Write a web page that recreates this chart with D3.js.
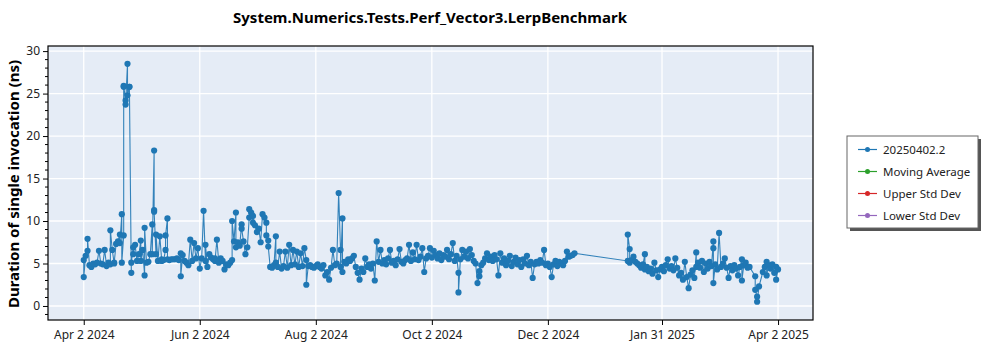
<!DOCTYPE html>
<html>
<head>
<meta charset="utf-8">
<script src="https://cdn.jsdelivr.net/npm/d3@7"></script>
<style>
  html, body { margin: 0; padding: 0; background: #ffffff; }
  svg { display: block; font-family: "Noto Sans", "Open Sans", sans-serif; }
</style>
</head>
<body>
<svg id="chart" width="1000" height="350"></svg>
<script>
// Benchmark run history: one entry per recorded run (date, duration in ns).
const runDates = [
  "2024-04-02","2024-04-02","2024-04-03","2024-04-04","2024-04-04","2024-04-05","2024-04-06","2024-04-07",
  "2024-04-08","2024-04-09","2024-04-10","2024-04-11","2024-04-12","2024-04-13","2024-04-14","2024-04-15",
  "2024-04-16","2024-04-16","2024-04-17","2024-04-18","2024-04-18","2024-04-19","2024-04-20","2024-04-21",
  "2024-04-21","2024-04-22","2024-04-22","2024-04-23","2024-04-23","2024-04-23","2024-04-24","2024-04-24",
  "2024-04-25","2024-04-25","2024-04-26","2024-04-26","2024-04-27","2024-04-27","2024-04-28","2024-04-28",
  "2024-04-29","2024-04-30","2024-05-01","2024-05-02","2024-05-02","2024-05-03","2024-05-04","2024-05-04",
  "2024-05-05","2024-05-06","2024-05-07","2024-05-08","2024-05-08","2024-05-09","2024-05-09","2024-05-09",
  "2024-05-10","2024-05-10","2024-05-11","2024-05-12","2024-05-13","2024-05-13","2024-05-14","2024-05-15",
  "2024-05-15","2024-05-16","2024-05-16","2024-05-17","2024-05-18","2024-05-19","2024-05-20","2024-05-21",
  "2024-05-22","2024-05-23","2024-05-23","2024-05-24","2024-05-25","2024-05-26","2024-05-27","2024-05-28",
  "2024-05-29","2024-05-30","2024-05-31","2024-06-01","2024-06-02","2024-06-03","2024-06-04","2024-06-05",
  "2024-06-05","2024-06-06","2024-06-07","2024-06-08","2024-06-09","2024-06-10","2024-06-10","2024-06-11",
  "2024-06-12","2024-06-13","2024-06-14","2024-06-15","2024-06-16","2024-06-17","2024-06-18","2024-06-19",
  "2024-06-19","2024-06-20","2024-06-21","2024-06-21","2024-06-22","2024-06-23","2024-06-24","2024-06-24",
  "2024-06-25","2024-06-26","2024-06-27","2024-06-28","2024-06-28","2024-06-29","2024-06-30","2024-06-30",
  "2024-07-01","2024-07-02","2024-07-03","2024-07-04","2024-07-05","2024-07-06","2024-07-07","2024-07-07",
  "2024-07-08","2024-07-08","2024-07-09","2024-07-10","2024-07-11","2024-07-12","2024-07-12","2024-07-13",
  "2024-07-14","2024-07-15","2024-07-16","2024-07-17","2024-07-18","2024-07-19","2024-07-20","2024-07-21",
  "2024-07-22","2024-07-23","2024-07-24","2024-07-25","2024-07-26","2024-07-27","2024-07-28","2024-07-28",
  "2024-07-29","2024-07-30","2024-07-31","2024-08-01","2024-08-02","2024-08-03","2024-08-04","2024-08-05",
  "2024-08-06","2024-08-07","2024-08-08","2024-08-09","2024-08-10","2024-08-11","2024-08-12","2024-08-13",
  "2024-08-14","2024-08-15","2024-08-15","2024-08-16","2024-08-16","2024-08-17","2024-08-18","2024-08-19",
  "2024-08-20","2024-08-21","2024-08-22","2024-08-23","2024-08-24","2024-08-25","2024-08-26","2024-08-27",
  "2024-08-28","2024-08-29","2024-08-30","2024-08-31","2024-09-01","2024-09-02","2024-09-03","2024-09-04",
  "2024-09-05","2024-09-06","2024-09-07","2024-09-08","2024-09-09","2024-09-10","2024-09-11","2024-09-12",
  "2024-09-13","2024-09-14","2024-09-15","2024-09-16","2024-09-17","2024-09-18","2024-09-19","2024-09-20",
  "2024-09-21","2024-09-22","2024-09-23","2024-09-24","2024-09-25","2024-09-26","2024-09-27","2024-09-28",
  "2024-09-29","2024-09-30","2024-10-01","2024-10-02","2024-10-03","2024-10-04","2024-10-05","2024-10-06",
  "2024-10-07","2024-10-08","2024-10-09","2024-10-10","2024-10-11","2024-10-12","2024-10-13","2024-10-14",
  "2024-10-15","2024-10-16","2024-10-16","2024-10-17","2024-10-18","2024-10-19","2024-10-20","2024-10-21",
  "2024-10-22","2024-10-23","2024-10-24","2024-10-25","2024-10-26","2024-10-27","2024-10-27","2024-10-28",
  "2024-10-29","2024-10-30","2024-10-31","2024-11-01","2024-11-02","2024-11-03","2024-11-04","2024-11-05",
  "2024-11-06","2024-11-07","2024-11-08","2024-11-09","2024-11-10","2024-11-11","2024-11-12","2024-11-13",
  "2024-11-14","2024-11-15","2024-11-16","2024-11-17","2024-11-18","2024-11-19","2024-11-20","2024-11-21",
  "2024-11-22","2024-11-23","2024-11-24","2024-11-25","2024-11-26","2024-11-27","2024-11-28","2024-11-29",
  "2024-11-30","2024-12-01","2024-12-02","2024-12-03","2024-12-04","2024-12-05","2024-12-06","2024-12-07",
  "2024-12-08","2024-12-09","2024-12-10","2024-12-11","2024-12-12","2024-12-13","2024-12-14","2024-12-15",
  "2024-12-16",
  "2025-01-13","2025-01-13","2025-01-14","2025-01-14","2025-01-15","2025-01-16","2025-01-17","2025-01-18",
  "2025-01-19","2025-01-20","2025-01-21","2025-01-22","2025-01-22","2025-01-23","2025-01-24","2025-01-25",
  "2025-01-26","2025-01-27","2025-01-28","2025-01-29","2025-01-30","2025-01-31","2025-02-01","2025-02-02",
  "2025-02-03","2025-02-04","2025-02-05","2025-02-06","2025-02-07","2025-02-08","2025-02-09","2025-02-10",
  "2025-02-11","2025-02-12","2025-02-13","2025-02-14","2025-02-15","2025-02-16","2025-02-17","2025-02-18",
  "2025-02-18","2025-02-19","2025-02-20","2025-02-21","2025-02-22","2025-02-23","2025-02-24","2025-02-25",
  "2025-02-26","2025-02-27","2025-02-27","2025-02-27","2025-02-28","2025-03-01","2025-03-02","2025-03-03",
  "2025-03-04","2025-03-05","2025-03-06","2025-03-07","2025-03-08","2025-03-09","2025-03-10","2025-03-11",
  "2025-03-12","2025-03-13","2025-03-14","2025-03-14","2025-03-15","2025-03-16","2025-03-17","2025-03-18",
  "2025-03-21","2025-03-21","2025-03-22","2025-03-22","2025-03-23","2025-03-25","2025-03-26","2025-03-27",
  "2025-03-27","2025-03-28","2025-03-29","2025-03-30","2025-03-31","2025-04-01","2025-04-01","2025-04-02"
];
const durations = [
  5.4,3.4,5.9,6.5,7.9,4.8,4.6,5.0,
  4.9,5.1,6.5,5.0,4.9,6.6,4.7,5.1,
  4.9,8.9,6.6,5.0,5.1,7.3,7.6,8.4,
  7.4,10.8,5.1,8.3,25.8,25.9,24.2,23.7,
  28.5,24.8,25.8,25.8,3.9,5.1,6.9,6.1,
  7.2,5.3,6.1,7.7,5.3,6.6,3.6,9.2,
  5.1,5.2,6.1,9.6,6.1,18.3,11.3,11.1,
  6.1,8.4,5.3,8.2,5.3,5.5,5.4,6.6,
  8.3,10.3,5.5,5.4,5.5,5.5,5.5,5.6,
  5.4,6.2,3.5,6.0,5.3,5.1,4.8,7.8,
  5.3,7.4,5.6,6.8,4.4,5.6,11.2,5.3,
  7.2,4.6,6.1,5.7,5.5,5.6,5.3,7.8,
  5.1,5.6,5.3,4.3,4.9,4.8,5.1,5.4,
  10.0,7.6,11.0,6.9,7.5,7.1,9.6,9.1,
  7.6,6.1,6.9,10.4,11.4,11.0,9.8,10.6,
  9.5,8.7,9.1,7.5,10.8,10.4,9.8,8.3,
  7.7,7.0,4.6,4.5,4.8,8.2,5.1,4.6,
  6.4,4.4,4.7,6.4,4.5,7.2,4.8,6.6,
  4.9,6.4,4.6,6.2,4.7,6.8,5.4,2.5,
  4.7,4.8,4.6,4.5,4.7,4.9,4.6,4.4,
  4.8,3.6,4.0,3.1,4.5,6.6,4.8,5.0,
  13.3,6.6,4.6,10.3,4.0,5.2,5.0,5.5,
  5.3,5.6,5.9,4.6,3.9,3.1,4.4,4.0,
  5.6,4.6,4.9,4.4,5.0,3.0,7.6,5.2,
  6.6,5.0,5.4,4.9,5.6,6.6,5.1,5.3,
  4.8,5.5,6.7,5.2,5.0,5.4,5.6,7.2,
  5.3,6.3,5.5,7.2,5.4,5.8,6.8,4.0,
  5.6,5.9,6.8,5.7,6.5,6.0,5.6,6.2,
  5.4,6.0,5.8,6.6,5.5,6.1,7.4,5.3,
  5.9,3.9,1.6,5.5,6.6,5.8,6.4,5.6,
  6.7,6.0,5.3,5.0,2.7,3.5,4.1,4.8,
  5.1,5.6,6.2,5.4,5.8,5.3,6.0,5.5,
  3.6,6.2,5.1,5.6,4.8,5.3,5.9,4.7,
  5.2,5.7,4.9,5.4,4.6,5.5,5.0,5.9,
  4.8,5.2,3.3,4.9,5.2,5.0,5.4,5.1,
  6.6,4.8,5.0,4.6,3.4,4.9,5.3,4.7,
  5.2,5.0,4.8,5.3,6.4,5.8,5.9,6.0,
  6.2,
  5.3,8.4,6.7,5.1,5.4,5.8,5.2,5.0,
  4.8,4.5,4.9,6.1,4.3,4.6,4.1,4.4,
  3.8,5.1,4.2,3.4,4.3,4.6,4.1,4.8,
  5.5,4.4,4.7,4.2,5.6,4.5,3.6,3.9,
  3.1,5.2,3.4,2.1,3.7,4.2,3.3,6.3,
  4.6,5.1,4.5,5.3,4.0,5.0,4.4,5.2,
  4.7,7.6,6.8,2.7,4.9,4.3,8.6,4.6,
  5.0,5.6,4.5,3.3,4.7,4.2,4.8,4.4,
  3.6,4.6,5.5,3.0,4.8,5.1,4.5,4.6,
  3.5,1.9,1.1,0.5,2.3,4.0,4.6,5.2,
  3.6,4.8,4.4,4.9,3.9,4.6,3.1,4.3
];

const xTickDates = ["2024-04-02","2024-06-02","2024-08-02","2024-10-02","2024-12-02","2025-01-31","2025-04-02"];
const xTickLabels = ["Apr 2 2024","Jun 2 2024","Aug 2 2024","Oct 2 2024","Dec 2 2024","Jan 31 2025","Apr 2 2025"];
const yTickValues = [0, 5, 10, 15, 20, 25, 30];

const legendNames = ["20250402.2", "Moving Average", "Upper Std Dev", "Lower Std Dev"];
const legendColors = ["#1f77b4", "#2ca02c", "#d62728", "#9467bd"];

const chartTitle = "System.Numerics.Tests.Perf_Vector3.LerpBenchmark";
const yAxisTitle = "Duration of single invocation (ns)";

// ---- layout ----
const plot = { left: 48, right: 813, top: 46, bottom: 320 };
const svg = d3.select("#chart");
const parse = d3.utcParse("%Y-%m-%d");

const runs = runDates.map((d, i) => ({ date: parse(d), value: durations[i] }));

const x = d3.scaleUtc()
  .domain([new Date(Date.UTC(2024, 2, 14, 5)), new Date(Date.UTC(2025, 3, 20, 9))])
  .range([plot.left, plot.right]);
const y = d3.scaleLinear()
  .domain([-1.65, 30.6])
  .range([plot.bottom, plot.top]);

const xTicks = xTickDates.map(parse);

// plot background
svg.append("rect")
  .attr("x", plot.left).attr("y", plot.top)
  .attr("width", plot.right - plot.left).attr("height", plot.bottom - plot.top)
  .attr("fill", "#e5ecf6");

// grid lines
const grid = svg.append("g");
grid.selectAll("line.h").data(yTickValues).join("line")
  .attr("x1", plot.left).attr("x2", plot.right)
  .attr("y1", d => y(d)).attr("y2", d => y(d))
  .attr("stroke", "#ffffff").attr("stroke-width", 1.3);
grid.selectAll("line.v").data(xTicks).join("line")
  .attr("y1", plot.top).attr("y2", plot.bottom)
  .attr("x1", d => x(d)).attr("x2", d => x(d))
  .attr("stroke", "#ffffff").attr("stroke-width", 1.3);

// series line and markers, clipped to the plot area
svg.append("clipPath").attr("id", "plotClip")
  .append("rect")
  .attr("x", plot.left).attr("y", plot.top)
  .attr("width", plot.right - plot.left).attr("height", plot.bottom - plot.top);

const series = svg.append("g").attr("clip-path", "url(#plotClip)");
const line = d3.line().x(d => x(d.date)).y(d => y(d.value));
series.append("path")
  .datum(runs)
  .attr("d", line)
  .attr("fill", "none")
  .attr("stroke", legendColors[0])
  .attr("stroke-width", 1.1)
  .attr("stroke-opacity", 0.9);
series.selectAll("circle").data(runs).join("circle")
  .attr("cx", d => x(d.date))
  .attr("cy", d => y(d.value))
  .attr("r", 3.1)
  .attr("fill", legendColors[0]);

// frame
svg.append("rect")
  .attr("x", plot.left).attr("y", plot.top)
  .attr("width", plot.right - plot.left).attr("height", plot.bottom - plot.top)
  .attr("fill", "none").attr("stroke", "#000000").attr("stroke-width", 1.2);

// axes
const tickFont = "12px";
const xAxis = d3.axisBottom(x)
  .tickValues(xTicks)
  .tickSize(5)
  .tickSizeOuter(0)
  .tickFormat((d, i) => xTickLabels[i]);
const gx = svg.append("g")
  .attr("transform", `translate(0,${plot.bottom})`)
  .call(xAxis);
gx.select(".domain").remove();
gx.selectAll("text").attr("font-size", tickFont).attr("fill", "#222").attr("dy", "0.95em")
  .attr("font-family", "\"Noto Sans\", sans-serif");
gx.selectAll(".tick line").attr("stroke", "#000");

const yAxis = d3.axisLeft(y)
  .tickValues(yTickValues)
  .tickSize(5)
  .tickSizeOuter(0)
  .tickFormat(d3.format("d"));
const gy = svg.append("g")
  .attr("transform", `translate(${plot.left},0)`)
  .call(yAxis);
gy.select(".domain").remove();
gy.selectAll("text").attr("font-size", tickFont).attr("fill", "#222")
  .attr("font-family", "\"Noto Sans\", sans-serif");
gy.selectAll(".tick line").attr("stroke", "#000");

// minor ticks on the value axis
const yMinor = d3.range(-1, 31).filter(v => v % 5 !== 0);
svg.append("g").selectAll("line").data(yMinor).join("line")
  .attr("x1", plot.left - 3).attr("x2", plot.left)
  .attr("y1", d => y(d)).attr("y2", d => y(d))
  .attr("stroke", "#000").attr("stroke-width", 1);

// titles
svg.append("text")
  .attr("x", 430).attr("y", 23)
  .attr("text-anchor", "middle")
  .attr("font-size", "15px").attr("font-weight", "bold")
  .attr("fill", "#000")
  .text(chartTitle);

svg.append("text")
  .attr("transform", `translate(19,${(plot.top + plot.bottom) / 2 + 1}) rotate(-90)`)
  .attr("text-anchor", "middle")
  .attr("font-size", "15px").attr("font-weight", "bold")
  .attr("fill", "#000")
  .text(yAxisTitle);

// legend
const legend = svg.append("g").attr("transform", "translate(847,136)");
legend.append("rect")
  .attr("x", 3).attr("y", 3).attr("width", 131).attr("height", 92)
  .attr("fill", "#555");
legend.append("rect")
  .attr("x", 0).attr("y", 0).attr("width", 131).attr("height", 92)
  .attr("fill", "#ffffff").attr("stroke", "#666").attr("stroke-width", 1);
const rows = legend.selectAll("g.row").data(legendNames).join("g")
  .attr("transform", (d, i) => `translate(0,${13.5 + i * 22})`);
rows.append("line")
  .attr("x1", 11).attr("x2", 30).attr("y1", 0).attr("y2", 0)
  .attr("stroke", (d, i) => legendColors[i]).attr("stroke-width", 1.2);
rows.append("circle")
  .attr("cx", 20.5).attr("cy", 0).attr("r", 2.5)
  .attr("fill", (d, i) => legendColors[i]);
rows.append("text")
  .attr("x", 36).attr("y", 0).attr("dy", "0.35em")
  .attr("font-size", "11.5px").attr("fill", "#222")
  .text(d => d);
</script>
</body>
</html>
